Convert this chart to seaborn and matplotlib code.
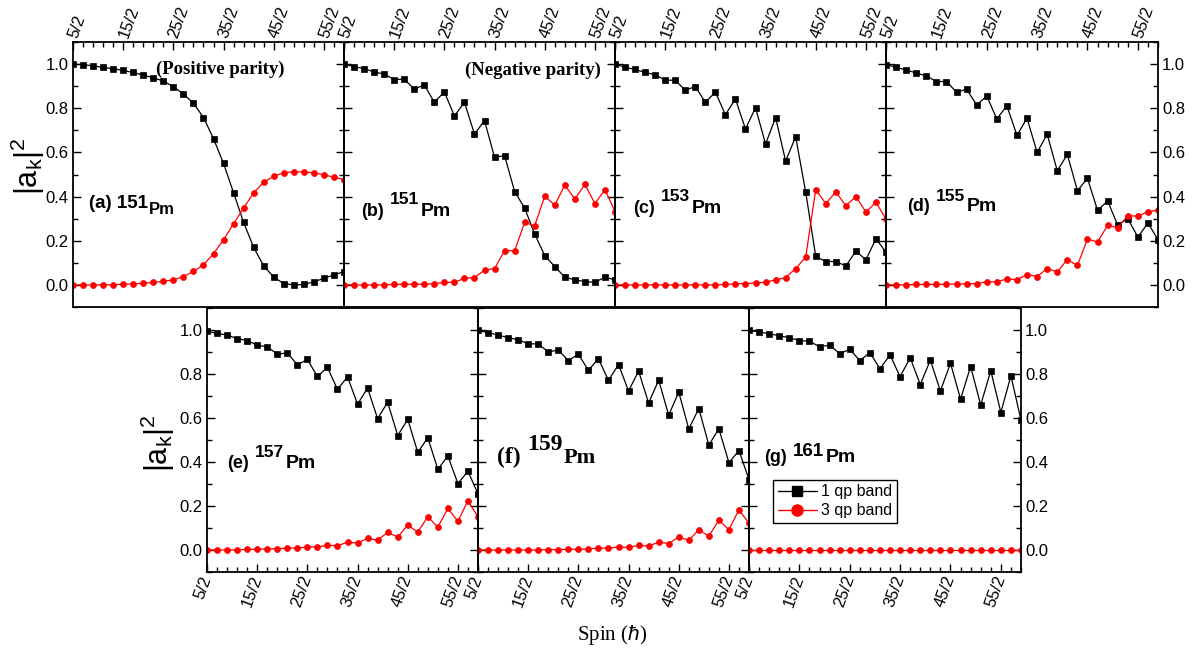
import numpy as np
import pandas as pd
import matplotlib
matplotlib.use("Agg")
import matplotlib.pyplot as plt
import seaborn as sns
from matplotlib.ticker import MultipleLocator
from matplotlib.lines import Line2D

sns.set_theme(style="ticks")
plt.rcParams["font.family"] = ["Liberation Sans", "DejaVu Sans"]
plt.rcParams["mathtext.fontset"] = "custom"
plt.rcParams["mathtext.rm"] = "Liberation Sans"
plt.rcParams["mathtext.it"] = "Liberation Sans:italic"
plt.rcParams["axes.edgecolor"] = "black"
plt.rcParams["xtick.color"] = "black"
plt.rcParams["ytick.color"] = "black"
plt.rcParams["text.color"] = "black"
plt.rcParams["axes.labelcolor"] = "black"

# Spin I = n/2, n = 5, 7, ..., 59
spin_num = np.arange(5, 61, 2)
spins = spin_num / 2.0
tick_num = [5, 15, 25, 35, 45, 55]

# |a_k|^2 amplitudes: one-quasiparticle (1 qp) and three-quasiparticle (3 qp) bands
pm151_pos_1qp = [1.0, 0.997, 0.992, 0.985, 0.979, 0.971, 0.962, 0.95, 0.938, 0.923,
                 0.898, 0.864, 0.823, 0.758, 0.662, 0.55, 0.417, 0.283, 0.17, 0.086,
                 0.035, 0.006, 0.0, 0.002, 0.014, 0.03, 0.045, 0.06]
pm151_pos_3qp = [0.0, 0.0, 0.0, 0.0, 0.001, 0.003, 0.005, 0.008, 0.011, 0.017,
                 0.023, 0.038, 0.061, 0.091, 0.141, 0.205, 0.277, 0.348, 0.417, 0.465,
                 0.492, 0.508, 0.512, 0.512, 0.508, 0.498, 0.488, 0.477]

pm151_neg_1qp = [1.0, 0.988, 0.98, 0.964, 0.955, 0.93, 0.932, 0.886, 0.906, 0.827,
                 0.874, 0.765, 0.827, 0.683, 0.744, 0.578, 0.585, 0.423, 0.348, 0.23,
                 0.133, 0.083, 0.035, 0.023, 0.015, 0.012, 0.035, 0.023]
pm151_neg_3qp = [0.0, 0.0, 0.0, 0.0, 0.0, 0.002, 0.003, 0.003, 0.003, 0.006,
                 0.011, 0.012, 0.03, 0.033, 0.067, 0.074, 0.155, 0.155, 0.283, 0.268,
                 0.402, 0.361, 0.452, 0.389, 0.455, 0.368, 0.432, 0.332]

pm153_1qp = [1.0, 0.985, 0.976, 0.962, 0.952, 0.927, 0.927, 0.882, 0.898, 0.827,
             0.873, 0.771, 0.842, 0.706, 0.803, 0.638, 0.758, 0.561, 0.671, 0.42,
             0.129, 0.106, 0.106, 0.086, 0.153, 0.114, 0.209, 0.148]
pm153_3qp = [0.0, 0.0, 0.0, 0.0, 0.0, 0.0, 0.0, 0.0, 0.0, 0.0,
             0.0, 0.002, 0.005, 0.006, 0.009, 0.012, 0.023, 0.033, 0.074, 0.126,
             0.432, 0.368, 0.421, 0.359, 0.4, 0.33, 0.374, 0.298]

pm155_1qp = [0.998, 0.985, 0.974, 0.959, 0.947, 0.921, 0.921, 0.873, 0.886, 0.815,
             0.855, 0.752, 0.811, 0.677, 0.755, 0.6, 0.682, 0.517, 0.591, 0.427,
             0.482, 0.338, 0.38, 0.271, 0.3, 0.217, 0.28, 0.205]
pm155_3qp = [0.0, 0.0, 0.0, 0.002, 0.002, 0.002, 0.003, 0.004, 0.005, 0.006,
             0.014, 0.014, 0.027, 0.024, 0.047, 0.038, 0.074, 0.059, 0.115, 0.088,
             0.208, 0.194, 0.27, 0.259, 0.314, 0.311, 0.332, 0.338]

pm157_1qp = [0.994, 0.985, 0.977, 0.961, 0.952, 0.931, 0.924, 0.89, 0.896, 0.842,
             0.866, 0.789, 0.83, 0.73, 0.787, 0.663, 0.736, 0.597, 0.672, 0.52,
             0.594, 0.444, 0.51, 0.367, 0.427, 0.302, 0.358, 0.255]
pm157_3qp = [0.0, 0.0, 0.0, 0.0, 0.003, 0.003, 0.005, 0.006, 0.009, 0.009,
             0.014, 0.014, 0.021, 0.02, 0.035, 0.032, 0.053, 0.045, 0.08, 0.059,
             0.113, 0.082, 0.151, 0.104, 0.189, 0.13, 0.224, 0.15]

pm159_1qp = [0.998, 0.988, 0.977, 0.965, 0.956, 0.937, 0.937, 0.9, 0.909, 0.861,
             0.89, 0.817, 0.869, 0.771, 0.843, 0.723, 0.813, 0.668, 0.772, 0.613,
             0.718, 0.55, 0.643, 0.477, 0.551, 0.397, 0.452, 0.32]
pm159_3qp = [0.0, 0.0, 0.0, 0.0, 0.0, 0.0, 0.0, 0.002, 0.002, 0.003,
             0.003, 0.005, 0.008, 0.009, 0.014, 0.012, 0.021, 0.018, 0.036, 0.029,
             0.059, 0.044, 0.092, 0.063, 0.136, 0.092, 0.183, 0.121]

pm161_1qp = [0.998, 0.991, 0.983, 0.974, 0.965, 0.952, 0.949, 0.924, 0.931, 0.893,
             0.912, 0.861, 0.897, 0.824, 0.886, 0.788, 0.874, 0.752, 0.863, 0.723,
             0.849, 0.686, 0.834, 0.659, 0.815, 0.625, 0.792, 0.59]
pm161_3qp = [0.0] * 28

band_names = ["1 qp band", "3 qp band"]
band_colors = {"1 qp band": "black", "3 qp band": "red"}
band_markers = {"1 qp band": "s", "3 qp band": "o"}

W, H = 1192, 648


def rect(left, top, width, height):
    return [left / W, 1 - (top + height) / H, width / W, height / H]


# (tag, mass, one-qp, three-qp, pixel box, row, label style, label x, label y, shift pt)
panels = [
    ("(a)", "151", pm151_pos_1qp, pm151_pos_3qp, (73, 42, 271, 265), "top", "lowered", 4.09, 0.349, 3.6),
    ("(b)", "151", pm151_neg_1qp, pm151_neg_3qp, (344, 42, 271, 265), "top", "raised", 4.19, 0.31, 9.4),
    ("(c)", "153", pm153_1qp, pm153_3qp, (615, 42, 271, 265), "top", "raised", 4.29, 0.326, 9.4),
    ("(d)", "155", pm155_1qp, pm155_3qp, (886, 42, 272, 265), "top", "raised", 4.59, 0.333, 8.4),
    ("(e)", "157", pm157_1qp, pm157_3qp, (207, 308, 271, 264), "bottom", "raised", 4.49, 0.372, 8.4),
    ("(f)", "159", pm159_1qp, pm159_3qp, (478, 308, 271, 264), "bottom", "serif", 4.39, 0.396, 9.4),
    ("(g)", "161", pm161_1qp, pm161_3qp, (749, 308, 272, 264), "bottom", "raised", 3.99, 0.402, 3.8),
]

fig = plt.figure(figsize=(W / 100, H / 100), dpi=100)
axes = []


def nucleus_label(ax, x, y, tag, mass, style, shift):
    if style == "lowered":
        t1 = ax.text(x, y, f"{tag} {mass}", fontsize=13.5, weight="bold", va="baseline", ha="left")
        ax.annotate("Pm", xy=(1, 0), xycoords=t1, xytext=(1, -shift), textcoords="offset points",
                    fontsize=12, weight="bold", va="bottom", ha="left")
        return
    if style == "serif":
        fam = ["Liberation Serif", "DejaVu Serif"]
        sizes = (17, 17, 16)
    else:
        fam = ["Liberation Sans", "DejaVu Sans"]
        sizes = (13, 12.5 if tag != "(g)" else 13.5, 14)
    t1 = ax.text(x, y, tag, fontsize=sizes[0], weight="bold", family=fam, va="baseline", ha="left")
    t2 = ax.annotate(mass, xy=(1, 0), xycoords=t1, xytext=(4.5, shift), textcoords="offset points",
                     fontsize=sizes[1], weight="bold", family=fam, va="bottom", ha="left")
    ax.annotate("Pm", xy=(1, 0), xycoords=t2, xytext=(1, -shift), textcoords="offset points",
                fontsize=sizes[2], weight="bold", family=fam, va="bottom", ha="left")


for idx, (tag, mass, one, three, box, row, style, lx, ly, shift) in enumerate(panels):
    ax = fig.add_axes(rect(*box))
    axes.append(ax)
    df = pd.DataFrame({
        "spin": np.concatenate([spins, spins]),
        "amp": np.concatenate([one, three]),
        "band": [band_names[0]] * len(spins) + [band_names[1]] * len(spins),
    })
    sns.lineplot(data=df, x="spin", y="amp", hue="band", style="band", hue_order=band_names,
                 style_order=band_names, palette=band_colors, markers=band_markers, dashes=False,
                 markersize=4.3, linewidth=0.9, sort=False, legend=False, ax=ax)
    for ln in ax.get_lines():
        ln.set_markeredgecolor(ln.get_color())
        ln.set_markeredgewidth(0.5)
        if ln.get_marker() == "s":
            ln.set_markersize(3.8)

    ax.set_xlim(2.5, 29.5)
    ax.set_ylim(-0.1, 1.1)
    ax.set_xlabel("")
    ax.set_ylabel("")
    ax.set_xticks([n / 2 for n in tick_num])
    ax.set_xticklabels([f"{n}/2" for n in tick_num])
    ax.set_xticks(spins, minor=True)
    ax.yaxis.set_major_locator(MultipleLocator(0.2))
    ax.yaxis.set_minor_locator(MultipleLocator(0.1))
    ax.set_yticks(np.arange(0, 1.01, 0.2))
    ax.set_yticklabels([f"{v:.1f}" for v in np.arange(0, 1.01, 0.2)])

    show_left = tag in ("(a)", "(e)")
    show_right = tag in ("(d)", "(g)")
    ax.tick_params(axis="y", which="both", direction="in", left=True, right=True,
                   labelleft=show_left, labelright=show_right, labelsize=12, pad=3)
    ax.tick_params(axis="y", which="major", length=6, width=1.0)
    ax.tick_params(axis="y", which="minor", length=3.5, width=1.0)
    if row == "top":
        ax.tick_params(axis="x", which="both", direction="in", top=True, bottom=False,
                       labeltop=True, labelbottom=False, labelsize=12, pad=3)
        for lab in ax.get_xticklabels():
            lab.set_rotation(70)
            lab.set_rotation_mode("anchor")
            lab.set_ha("left")
            lab.set_va("center")
    else:
        ax.tick_params(axis="x", which="both", direction="in", top=False, bottom=True,
                       labeltop=False, labelbottom=True, labelsize=12, pad=3)
        for lab in ax.get_xticklabels():
            lab.set_rotation(70)
            lab.set_rotation_mode("anchor")
            lab.set_ha("right")
            lab.set_va("center")
    ax.tick_params(axis="x", which="major", length=6, width=1.0)
    ax.tick_params(axis="x", which="minor", length=3.5, width=1.0)
    for sp in ax.spines.values():
        sp.set_visible(True)
        sp.set_linewidth(1.3)
        sp.set_color("black")
    ax.set_facecolor("none")

    nucleus_label(ax, lx, ly, tag, mass, style, shift)

serif = ["Liberation Serif", "DejaVu Serif"]
axes[0].text(17.2, 0.975, "(Positive parity)", family=serif, weight="bold", fontsize=13.5,
             ha="center", va="center")
axes[1].text(21.3, 0.97, "(Negative parity)", family=serif, weight="bold", fontsize=13.5,
             ha="center", va="center")

handles = [Line2D([], [], color=band_colors[b], marker=band_markers[b], lw=1.0,
                  markersize=7 if b == band_names[0] else 8, markeredgecolor=band_colors[b])
           for b in band_names]
leg = axes[6].legend(handles, band_names, loc="lower left", bbox_to_anchor=(0.09, 0.185),
                     frameon=True, fancybox=False, edgecolor="black", framealpha=1,
                     fontsize=11.5, handlelength=2.4, handletextpad=0.3, borderpad=0.3,
                     labelspacing=0.25, borderaxespad=0)
leg.get_frame().set_linewidth(1.0)

ylab = r"$|\mathrm{a}_\mathrm{k}|^\mathrm{2}$"
fig.text(28 / W, 1 - 166 / H, ylab, rotation=90, fontsize=22, ha="center", va="center")
fig.text(158 / W, 1 - 443 / H, ylab, rotation=90, fontsize=22, ha="center", va="center")
fig.text(612 / W, 1 - 635 / H, r"Spin ($\hbar$)", family=serif, fontsize=15, ha="center", va="center")

fig.savefig("out.png", dpi=100, facecolor="white")
